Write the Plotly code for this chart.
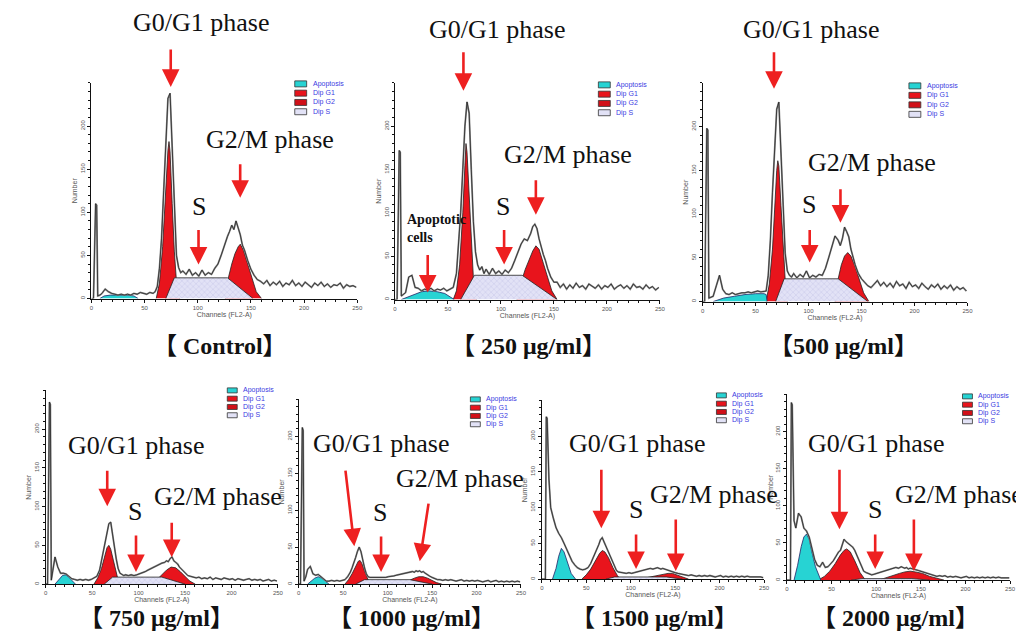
import plotly.graph_objects as go

W, H = 1024, 639

# ---------------- data ----------------
# channel grid shared by the raw DNA histograms
CH = [0, 2, 4, 5, 6, 8, 10,
      13, 16, 19, 22, 25, 28, 31, 34, 37, 40, 43, 46, 49, 52, 55, 58,
      60, 62, 64, 66, 68, 70, 72, 74, 76, 78, 80, 82, 84, 86,
      89, 92, 95, 98, 101, 104, 107, 110, 113, 116, 119, 122, 125,
      128, 130, 132, 134, 136, 138, 140, 142, 144,
      147, 150, 153, 156, 159, 162, 165, 168, 171, 174, 177, 180, 183, 186, 189, 192,
      195, 198, 201, 204, 207, 210, 213, 216, 219, 222, 225, 228, 231, 234, 237, 240,
      243, 246, 249]

RAW_CONTROL = [0, 0, 110, 108, 3, 4, 6,
               11, 8, 6, 5, 4, 5, 4, 5, 4, 6, 5, 7, 6, 5, 7, 6,
               8, 14, 35, 70, 125, 180, 232, 238, 170, 95, 50, 36, 30, 32,
               28, 34, 27, 30, 26, 33, 27, 30, 28, 35, 40, 50, 62,
               72, 78, 85, 80, 90, 82, 74, 62, 56,
               44, 34, 27, 22, 20, 17, 21, 15, 19, 16, 20, 14, 18, 16, 21, 15,
               18, 14, 19, 16, 13, 18, 15, 19, 14, 17, 13, 16, 15, 18, 12, 16,
               14, 15, 13]
RAW_250 = [0, 0, 172, 170, 4, 6, 8,
           26, 28, 14, 13, 10, 12, 11, 13, 10, 12, 11, 13, 10, 12, 14, 30,
           60, 100, 150, 200, 228, 215, 150, 90, 55, 40, 34, 38, 30, 35,
           29, 36, 30, 33, 29, 34, 31, 36, 45, 55, 64, 70, 68,
           76, 84, 87, 82, 70, 60, 52, 45, 36,
           26, 20, 20, 14, 18, 12, 17, 13, 19, 14, 16, 12, 18, 15, 13, 17,
           12, 16, 14, 18, 12, 15, 17, 13, 16, 12, 18, 14, 15, 12, 17, 13,
           15, 11, 14]
RAW_500 = [0, 0, 198, 196, 4, 5, 6,
           18, 30, 14, 9, 8, 10, 8, 9, 10, 10, 11, 10, 11, 12, 11, 12,
           12, 30, 70, 125, 180, 220, 228, 170, 100, 55, 35, 30, 28, 32,
           27, 31, 28, 35, 27, 30, 28, 31, 30, 38, 50, 62, 75,
           70, 64, 72, 85, 80, 74, 60, 50, 42,
           32, 26, 22, 18, 16, 20, 24, 18, 22, 17, 21, 16, 23, 18, 20, 15,
           22, 17, 19, 15, 21, 17, 14, 19, 16, 20, 14, 18, 15, 19, 13, 17,
           14, 16, 12]
RAW_750 = [0, 0, 235, 232, 5, 20, 35,
           22, 14, 14, 13, 10, 7, 6, 5, 6, 5, 6, 5, 6, 8, 10, 18,
           30, 42, 55, 68, 78, 80, 66, 48, 32, 20, 14, 12, 11, 12,
           11, 12, 11, 12, 13, 14, 16, 18, 20, 22, 24, 26, 27,
           28, 30, 29, 33, 35, 30, 28, 26, 22,
           18, 14, 11, 10, 9, 8, 9, 7, 8, 7, 9, 6, 8, 7, 6, 8,
           7, 6, 7, 5, 7, 6, 5, 6, 7, 5, 6, 5, 6, 4, 5, 6,
           4, 5, 4]
RAW_1000 = [0, 0, 212, 208, 4, 10, 20,
            24, 14, 12, 13, 10, 6, 4, 4, 5, 4, 5, 4, 5, 6, 10, 16,
            22, 28, 36, 44, 50, 44, 32, 22, 14, 10, 9, 9, 8, 9,
            8, 9, 8, 9, 10, 10, 11, 12, 13, 14, 15, 16, 16,
            17, 16, 18, 17, 18, 16, 17, 15, 13,
            11, 9, 7, 6, 6, 5, 6, 5, 6, 5, 4, 5, 6, 4, 5, 4,
            5, 4, 5, 4, 3, 4, 5, 3, 4, 5, 3, 4, 3, 4, 3, 4,
            3, 4, 3]
RAW_1500 = [0, 0, 0, 227, 225, 140, 100,
            85, 72, 64, 58, 50, 42, 33, 25, 20, 16, 14, 13, 14, 16, 22, 30,
            36, 42, 48, 55, 58, 52, 46, 42, 36, 28, 22, 16, 12, 10,
            9, 8, 8, 9, 8, 9, 10, 11, 12, 13, 14, 15, 14,
            15, 16, 15, 14, 15, 14, 13, 12, 12,
            10, 9, 8, 7, 6, 6, 5, 6, 5, 4, 5, 4, 5, 4, 5, 4,
            3, 4, 5, 3, 4, 3, 4, 3, 4, 3, 4, 3, 4, 3, 3, 4,
            3, 3, 2]
RAW_2000 = [0, 0, 0, 239, 236, 80, 70,
            90, 85, 70, 66, 58, 42, 28, 20, 18, 24, 17, 18, 22, 26, 32, 38,
            40, 48, 55, 52, 50, 48, 46, 44, 40, 34, 28, 22, 16, 12,
            10, 8, 7, 8, 9, 10, 12, 13, 14, 15, 16, 17, 16,
            18, 17, 16, 17, 15, 16, 15, 14, 14,
            13, 12, 11, 9, 8, 7, 7, 5, 6, 5, 6, 4, 5, 4, 5, 4,
            3, 4, 5, 3, 4, 3, 4, 3, 4, 3, 4, 3, 4, 3, 4, 3,
            3, 4, 3]

# fitted components (channel, number)
CTRL_APO_X = [8, 12, 18, 26, 34, 40, 44];            CTRL_APO_Y = [0, 3, 4, 4, 4, 3, 0]
CTRL_G1_X = [61, 64, 67, 70, 72, 73, 74, 76, 78, 80, 83]; CTRL_G1_Y = [0, 18, 60, 135, 172, 182, 170, 110, 55, 20, 0]
CTRL_G2_X = [126, 129, 132, 135, 138, 140, 143, 147, 151, 155, 160]; CTRL_G2_Y = [0, 25, 40, 52, 60, 63, 56, 40, 22, 8, 0]
CTRL_S_X = [70, 78, 128, 152];                        CTRL_S_Y = [0, 24, 24, 0]

C250_APO_X = [6, 12, 18, 25, 32, 40, 47, 52, 56];     C250_APO_Y = [0, 3, 6, 9, 10, 9, 7, 3, 0]
C250_G1_X = [55, 58, 61, 64, 66, 67, 68, 70, 72, 74, 77]; C250_G1_Y = [0, 10, 40, 100, 155, 180, 170, 120, 65, 25, 0]
C250_G2_X = [115, 119, 123, 127, 130, 133, 136, 140, 144, 148, 153]; C250_G2_Y = [0, 20, 35, 48, 56, 62, 58, 42, 25, 10, 0]
C250_S_X = [62, 75, 120, 153];                        C250_S_Y = [0, 28, 28, 0]

C500_APO_X = [10, 15, 20, 30, 40, 50, 58, 60, 61];    C500_APO_Y = [0, 2, 4, 6, 8, 9, 9, 8, 0]
C500_G1_X = [60, 63, 66, 68, 70, 71, 72, 74, 76, 78, 80]; C500_G1_Y = [0, 20, 60, 110, 150, 161, 155, 110, 60, 25, 0]
C500_G2_X = [125, 128, 131, 134, 137, 140, 144, 148, 152, 157]; C500_G2_Y = [0, 26, 42, 52, 56, 52, 40, 25, 10, 0]
C500_S_X = [69, 77, 128, 156];                        C500_S_Y = [0, 26, 26, 0]

C750_APO_X = [10, 14, 18, 21, 24, 28, 32];            C750_APO_Y = [0, 6, 11, 12, 10, 5, 0]
C750_G1_X = [52, 56, 60, 63, 66, 68, 70, 73, 76, 79]; C750_G1_Y = [0, 8, 20, 35, 47, 50, 45, 30, 15, 0]
C750_G2_X = [115, 120, 125, 130, 135, 140, 145, 150, 155, 161]; C750_G2_Y = [0, 6, 12, 18, 22, 21, 16, 10, 4, 0]
C750_S_X = [63, 72, 125, 150];                        C750_S_Y = [0, 9, 9, 0]

C1000_APO_X = [10, 14, 18, 22, 26, 30, 34];           C1000_APO_Y = [0, 4, 8, 10, 8, 4, 0]
C1000_G1_X = [52, 56, 60, 64, 67, 69, 71, 74, 77, 80]; C1000_G1_Y = [0, 6, 14, 24, 31, 32, 28, 18, 8, 0]
C1000_G2_X = [115, 120, 125, 130, 135, 140, 145, 150, 155, 161]; C1000_G2_Y = [0, 3, 6, 8, 10, 10, 8, 5, 2, 0]
C1000_S_X = [64, 74, 125, 150];                       C1000_S_Y = [0, 6, 6, 0]

C1500_APO_X = [12, 16, 19, 22, 25, 29, 33, 38];       C1500_APO_Y = [0, 15, 32, 43, 38, 22, 8, 0]
C1500_G1_X = [45, 50, 55, 60, 65, 68, 71, 75, 80, 85, 88]; C1500_G1_Y = [0, 6, 14, 26, 36, 40, 38, 30, 16, 5, 0]
C1500_G2_X = [110, 118, 126, 134, 142, 147, 152, 158, 165]; C1500_G2_Y = [0, 2, 4, 6, 8, 8, 6, 3, 0]
C1500_S_X = [72, 82, 140, 158];                       C1500_S_Y = [0, 3, 3, 0]

C2000_APO_X = [8, 12, 16, 19, 22, 25, 28, 32, 38];    C2000_APO_Y = [0, 20, 45, 58, 62, 55, 38, 18, 0]
C2000_G1_X = [35, 42, 48, 54, 60, 64, 67, 71, 76, 82, 88]; C2000_G1_Y = [0, 5, 12, 22, 34, 40, 42, 38, 26, 10, 0]
C2000_G2_X = [103, 110, 118, 126, 132, 138, 144, 152, 160, 168, 176]; C2000_G2_Y = [0, 3, 6, 9, 11, 12, 11, 9, 5, 2, 0]
C2000_S_X = [72, 84, 140, 160];                       C2000_S_Y = [0, 2, 2, 0]

PANEL_LABELS = ["【 Control】", "【 250 μg/ml】", "【500 μg/ml】",
                "【 750 μg/ml】", "【 1000 μg/ml】", "【 1500 μg/ml】", "【 2000 μg/ml】"]
LEGEND_ITEMS = ["Apoptosis", "Dip G1", "Dip G2", "Dip S"]
X_TICKS = [0, 50, 100, 150, 200, 250]
Y_TICKS = [0, 50, 100, 150, 200]

# ---------------- layout geometry (pixels) ----------------
PANEL_BOX = [(82, 350, 75, 291), (388, 655, 75, 292), (698, 965, 75, 294),
             (36, 270, 383, 577), (291, 515, 392, 577), (536, 760, 393, 572), (783, 1008, 387, 573)]
LABEL_POS = [(212, 339), (523, 339), (840, 339), (148, 611), (405, 611), (650, 611), (892, 611)]
LEGEND_POS = [(287, 76, 9.3, 12, 6), (593, 77, 9.3, 12, 6), (906, 78, 9.5, 12, 6),
              (219, 383, 8.3, 10, 5), (464, 392, 8.3, 10, 5), (712, 388, 8.3, 10, 5), (960, 389, 8.3, 10, 5)]

RAWS = [RAW_CONTROL, RAW_250, RAW_500, RAW_750, RAW_1000, RAW_1500, RAW_2000]
COMPS = [
    (CTRL_APO_X, CTRL_APO_Y, CTRL_G1_X, CTRL_G1_Y, CTRL_G2_X, CTRL_G2_Y, CTRL_S_X, CTRL_S_Y),
    (C250_APO_X, C250_APO_Y, C250_G1_X, C250_G1_Y, C250_G2_X, C250_G2_Y, C250_S_X, C250_S_Y),
    (C500_APO_X, C500_APO_Y, C500_G1_X, C500_G1_Y, C500_G2_X, C500_G2_Y, C500_S_X, C500_S_Y),
    (C750_APO_X, C750_APO_Y, C750_G1_X, C750_G1_Y, C750_G2_X, C750_G2_Y, C750_S_X, C750_S_Y),
    (C1000_APO_X, C1000_APO_Y, C1000_G1_X, C1000_G1_Y, C1000_G2_X, C1000_G2_Y, C1000_S_X, C1000_S_Y),
    (C1500_APO_X, C1500_APO_Y, C1500_G1_X, C1500_G1_Y, C1500_G2_X, C1500_G2_Y, C1500_S_X, C1500_S_Y),
    (C2000_APO_X, C2000_APO_Y, C2000_G1_X, C2000_G1_Y, C2000_G2_X, C2000_G2_Y, C2000_S_X, C2000_S_Y),
]
for r in RAWS:
    assert len(r) == len(CH), len(r)

RED = "#e8141c"
CYAN = "#27d3d3"
LAV_BG = "#e2e2f6"
LAV_FG = "#8c8cd0"
SERIF = "Liberation Serif, Times New Roman, Noto Sans CJK SC, serif"
LABEL_FONT = "Liberation Serif, Noto Sans CJK SC, serif"


def px(x):
    return x / W


def py(y):
    return 1 - y / H


fig = go.Figure()
layout = dict()

for i, (box, raw, comp) in enumerate(zip(PANEL_BOX, RAWS, COMPS)):
    k = "" if i == 0 else str(i + 1)
    xa, ya = "x" + k, "y" + k
    ax, ay, g1x, g1y, g2x, g2y, sx, sy = comp
    common = dict(xaxis=xa, yaxis=ya, mode="lines", showlegend=False, hoverinfo="skip")
    fig.add_trace(go.Scatter(x=g1x, y=g1y, fill="toself", fillcolor=RED,
                             line=dict(color="#222", width=0.8), **common))
    fig.add_trace(go.Scatter(x=g2x, y=g2y, fill="toself", fillcolor=RED,
                             line=dict(color="#222", width=0.8), **common))
    fig.add_trace(go.Scatter(x=sx, y=sy, fill="toself", fillcolor=LAV_BG,
                             fillpattern=dict(shape="x", fgcolor=LAV_FG, bgcolor=LAV_BG, size=4, solidity=0.15),
                             line=dict(color="#222", width=0.8), **common))
    fig.add_trace(go.Scatter(x=ax, y=ay, fill="toself", fillcolor=CYAN,
                             line=dict(color="#226", width=0.8), **common))
    fig.add_trace(go.Scatter(x=CH, y=raw, line=dict(color="#8a8a8a", width=1.8), **common))
    fig.add_trace(go.Scatter(x=CH, y=raw, line=dict(color="#1a1a1a", width=0.7), **common))

    x0, x1, yt, yb = box
    tickfont = dict(family="Arial", size=6, color="#555")
    layout["xaxis" + k] = dict(
        domain=[px(x0), px(x1)], anchor=ya, range=[0, 250], tickvals=X_TICKS,
        showline=True, linecolor="#111", linewidth=1, ticks="outside", ticklen=3,
        tickcolor="#111", minor=dict(ticks="outside", ticklen=2, dtick=10, tickcolor="#111"),
        showgrid=False, zeroline=False, tickfont=tickfont,
        title=dict(text="Channels (FL2-A)", font=dict(family="Arial", size=7, color="#555"), standoff=1))
    layout["yaxis" + k] = dict(
        domain=[py(yb), py(yt)], anchor=xa, range=[0, 250], tickvals=Y_TICKS,
        showline=True, linecolor="#111", linewidth=1, ticks="outside", ticklen=3,
        tickcolor="#111", minor=dict(ticks="outside", ticklen=2, dtick=10, tickcolor="#111"),
        showgrid=False, zeroline=False, tickfont=tickfont, tickangle=-90,
        title=dict(text="Number", font=dict(family="Arial", size=7, color="#555"), standoff=1))

annotations = []
shapes = []


def text(t, cx, cy, size=26, bold=False, xanchor="center", family=SERIF, align="center"):
    if bold:
        t = "<b>" + t.replace("<br>", "</b><br><b>") + "</b>"
    annotations.append(dict(text=t, x=px(cx), y=py(cy), xref="paper", yref="paper",
                            xanchor=xanchor, yanchor="middle", showarrow=False, align=align,
                            font=dict(family=family, size=size, color="#111")))


def arrow(x0, y0, x1, y1):
    annotations.append(dict(text="", x=px(x1), y=py(y1), xref="paper", yref="paper",
                            axref="pixel", ayref="pixel", ax=x0 - x1, ay=y0 - y1,
                            showarrow=True, arrowhead=2, arrowsize=1.35, arrowwidth=2.6,
                            arrowcolor="#ee2020", standoff=0))


# phase labels (text centre) with their arrows (tail -> head)
PHASE_TEXT = [
    ("G0/G1 phase", 192, 15, (162, 40, 162, 79)),
    ("G0/G1 phase", 491, 22, (457, 43, 457, 83)),
    ("G0/G1 phase", 807, 22, (770, 43, 770, 81)),
    ("G2/M phase", 262, 132, (232, 155, 232, 190)),
    ("S", 190, 199, (190, 221, 190, 257)),
    ("G2/M phase", 562, 147, (530, 171, 530, 207)),
    ("S", 497, 199, (498, 221, 498, 257)),
    ("G2/M phase", 869, 155, (837, 180, 837, 215)),
    ("S", 805, 197, (806, 221, 806, 255)),
    ("G0/G1 phase", 127, 438, (98, 462, 98, 499)),
    ("S", 126, 504, (127, 527, 127, 565)),
    ("G2/M phase", 210, 489, (163, 514, 163, 550)),
    ("G0/G1 phase", 374, 436, (338, 462, 347, 539)),
    ("S", 373, 505, (374, 528, 374, 565)),
    ("G2/M phase", 454, 471, (422, 495, 413, 554)),
    ("G0/G1 phase", 632, 436, (596, 461, 596, 521)),
    ("S", 631, 502, (631, 526, 631, 562)),
    ("G2/M phase", 710, 487, (671, 511, 671, 564)),
    ("G0/G1 phase", 873, 436, (836, 461, 836, 522)),
    ("S", 872, 502, (872, 526, 872, 562)),
    ("G2/M phase", 956, 487, (911, 511, 911, 564)),
]
for t, cx, cy, arr in PHASE_TEXT:
    text(t, cx, cy, size=26)
    arrow(*arr)

text("Apoptotic<br>cells", 398, 221, size=14, bold=True, xanchor="left", align="left")
arrow(421, 246, 421, 285)

for lab, (cx, cy) in zip(PANEL_LABELS, LABEL_POS):
    text(lab, cx, cy, size=24, bold=True, family=LABEL_FONT)

# small per-panel legends
LEG_COLORS = [CYAN, RED, "#d01018", LAV_BG]
for (lx, ly, dy, bw, bh) in LEGEND_POS:
    for j, (name, col) in enumerate(zip(LEGEND_ITEMS, LEG_COLORS)):
        yc = ly + j * dy
        shapes.append(dict(type="rect", xref="paper", yref="paper",
                           x0=px(lx), x1=px(lx + bw), y0=py(yc + bh / 2), y1=py(yc - bh / 2),
                           fillcolor=col, line=dict(color="#333", width=0.8)))
        annotations.append(dict(text=name, x=px(lx + bw + 4), y=py(yc), xref="paper", yref="paper",
                                xanchor="left", yanchor="middle", showarrow=False,
                                font=dict(family="Arial", size=7, color="#3a3adf")))

fig.update_layout(
    width=W, height=H, autosize=False,
    margin=dict(l=0, r=0, t=0, b=0),
    paper_bgcolor="white", plot_bgcolor="rgba(0,0,0,0)",
    annotations=annotations, shapes=shapes, **layout)

fig.write_html("out.html")
